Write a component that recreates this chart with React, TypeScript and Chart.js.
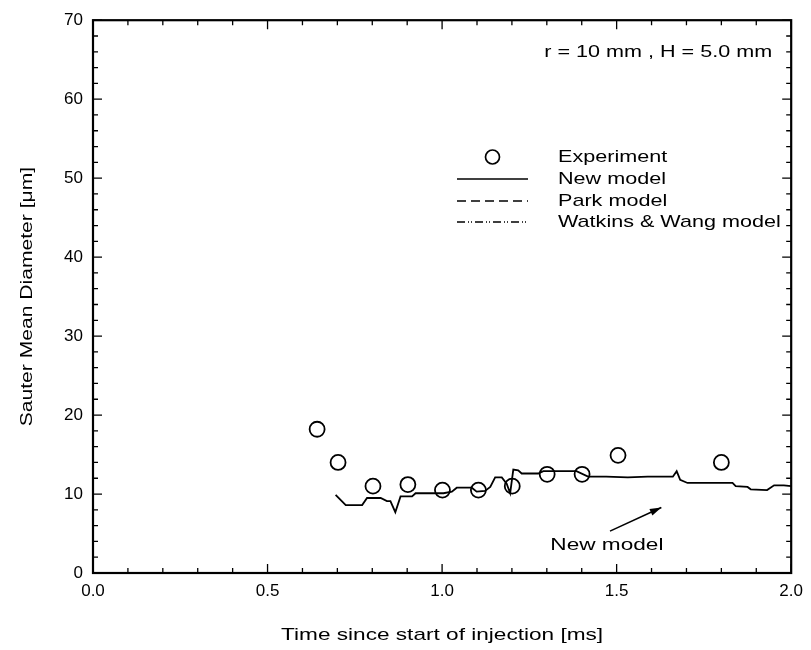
import React, { useEffect, useRef } from "react";
import { Chart, registerables } from "chart.js";

Chart.register(...registerables);

const FONT = "'Liberation Sans', Arial, Helvetica, sans-serif";

// Experiment (circles)
const expTime = [0.642, 0.702, 0.802, 0.902, 1.001, 1.104, 1.201, 1.301, 1.401, 1.504, 1.8];
const expSMD = [18.2, 14.0, 11.0, 11.2, 10.5, 10.5, 11.0, 12.5, 12.5, 14.9, 14.0];

// New model (solid line)
const newTime = [
  0.695, 0.724, 0.771, 0.785, 0.824, 0.842, 0.852, 0.866, 0.881, 0.914, 0.924, 1.004, 1.028, 1.042,
  1.085, 1.099, 1.123, 1.138, 1.152, 1.171, 1.185, 1.195, 1.204, 1.218, 1.228, 1.275, 1.29, 1.385,
  1.418, 1.47, 1.532, 1.589, 1.661, 1.672, 1.682, 1.703, 1.832, 1.841, 1.875, 1.884, 1.931, 1.951,
  1.979, 2.0,
];
const newSMD = [
  9.9, 8.6, 8.6, 9.5, 9.5, 9.1, 9.1, 7.7, 9.7, 9.7, 10.1, 10.1, 10.3, 10.8,
  10.8, 10.3, 10.4, 10.9, 12.1, 12.1, 11.3, 10.1, 13.1, 13.0, 12.6, 12.6, 12.9, 12.9,
  12.2, 12.2, 12.1, 12.2, 12.2, 12.9, 11.8, 11.4, 11.4, 11.0, 10.9, 10.6, 10.5, 11.1,
  11.1, 11.0,
];

// Park model / Watkins & Wang model: no visible data in this range
const parkTime: number[] = [];
const parkSMD: number[] = [];
const wwTime: number[] = [];
const wwSMD: number[] = [];

const xTickLabels = ["0.0", "0.5", "1.0", "1.5", "2.0"];
const yTickLabels = ["0", "10", "20", "30", "40", "50", "60", "70"];

const xTitle = "Time since start of injection [ms]";
const yTitle = "Sauter Mean Diameter [\u03bcm]";
const caseLabel = "r = 10 mm , H = 5.0 mm";
const arrowLabel = "New model";

const toPts = (xs: number[], ys: number[]) => xs.map((x, i) => ({ x, y: ys[i] }));

// draw horizontally widened text (the original figure uses a wide sans face)
function wideText(ctx: any, text: string, x: number, y: number, align: string, sx: number) {
  ctx.save();
  ctx.translate(x, y);
  ctx.scale(sx, 1);
  ctx.textAlign = align;
  ctx.textBaseline = "middle";
  ctx.fillText(text, 0, 0);
  ctx.restore();
}

const framePlugin = {
  id: "frameTicks",
  afterDatasetsDraw(chart: any) {
    const { ctx, chartArea, scales } = chart;
    const { left, right, top, bottom } = chartArea;
    const xs = scales.x;
    const ys = scales.y;
    ctx.save();
    ctx.strokeStyle = "#000";
    ctx.lineWidth = 1.3;
    ctx.beginPath();
    for (let i = 0; i <= 20; i++) {
      const px = xs.getPixelForValue(i * 0.1);
      const len = i % 5 === 0 ? 9 : 5;
      ctx.moveTo(px, bottom);
      ctx.lineTo(px, bottom - len);
      ctx.moveTo(px, top);
      ctx.lineTo(px, top + len);
    }
    for (let i = 0; i <= 35; i++) {
      const py = ys.getPixelForValue(i * 2);
      const len = i % 5 === 0 ? 9 : 5;
      ctx.moveTo(left, py);
      ctx.lineTo(left + len, py);
      ctx.moveTo(right, py);
      ctx.lineTo(right - len, py);
    }
    ctx.stroke();
    ctx.lineWidth = 2.2;
    ctx.strokeRect(left, top, right - left, bottom - top);

    ctx.font = `17px ${FONT}`;
    ctx.fillStyle = "#000";

    // axis titles
    wideText(ctx, xTitle, (left + right) / 2, 635, "center", 1.33);
    ctx.save();
    ctx.translate(27, (top + bottom) / 2);
    ctx.rotate(-Math.PI / 2);
    wideText(ctx, yTitle, 0, 0, "center", 1.24);
    ctx.restore();

    // legend
    const lx0 = left + 364;
    const lx1 = left + 435;
    const tx = left + 465;
    const ly = [157, 179, 201, 222];
    chart.data.datasets.forEach((ds: any, i: number) => {
      const yy = ly[i];
      ctx.save();
      ctx.strokeStyle = "#000";
      if (ds.showLine === false) {
        ctx.lineWidth = 1.7;
        ctx.beginPath();
        ctx.arc((lx0 + lx1) / 2, yy, 7, 0, Math.PI * 2);
        ctx.stroke();
      } else {
        ctx.lineWidth = 1.3;
        ctx.setLineDash(ds.borderDash || []);
        ctx.beginPath();
        ctx.moveTo(lx0, yy);
        ctx.lineTo(lx1, yy);
        ctx.stroke();
      }
      ctx.restore();
      wideText(ctx, ds.label, tx, yy, "left", 1.27);
    });

    // case label
    wideText(ctx, caseLabel, right - 19, 52, "right", 1.27);

    // arrow annotation
    wideText(ctx, arrowLabel, xs.getPixelForValue(1.31), ys.getPixelForValue(3.5), "left", 1.33);
    const ax0 = xs.getPixelForValue(1.481);
    const ay0 = ys.getPixelForValue(5.3);
    const ax1 = xs.getPixelForValue(1.628);
    const ay1 = ys.getPixelForValue(8.3);
    ctx.lineWidth = 1.6;
    ctx.beginPath();
    ctx.moveTo(ax0, ay0);
    ctx.lineTo(ax1, ay1);
    ctx.stroke();
    const ang = Math.atan2(ay1 - ay0, ax1 - ax0);
    const hl = 12;
    const hw = 0.3;
    ctx.beginPath();
    ctx.moveTo(ax1, ay1);
    ctx.lineTo(ax1 - hl * Math.cos(ang - hw), ay1 - hl * Math.sin(ang - hw));
    ctx.lineTo(ax1 - hl * Math.cos(ang + hw), ay1 - hl * Math.sin(ang + hw));
    ctx.closePath();
    ctx.fill();
    ctx.restore();
  },
};

export default function App() {
  const ref = useRef<HTMLCanvasElement | null>(null);
  useEffect(() => {
    if (!ref.current) return;
    const chart = new Chart(ref.current, {
      type: "scatter",
      data: {
        datasets: [
          {
            label: "Experiment",
            data: toPts(expTime, expSMD),
            showLine: false,
            pointStyle: "circle",
            pointRadius: 7.5,
            pointBorderWidth: 1.8,
            pointBorderColor: "#000",
            pointBackgroundColor: "rgba(0,0,0,0)",
            borderColor: "#000",
          },
          {
            label: "New model",
            data: toPts(newTime, newSMD),
            showLine: true,
            pointRadius: 0,
            borderColor: "#000",
            borderWidth: 1.8,
            tension: 0,
          },
          {
            label: "Park model",
            data: toPts(parkTime, parkSMD),
            showLine: true,
            pointRadius: 0,
            borderColor: "#000",
            borderWidth: 1.3,
            borderDash: [9, 5],
          },
          {
            label: "Watkins & Wang model",
            data: toPts(wwTime, wwSMD),
            showLine: true,
            pointRadius: 0,
            borderColor: "#000",
            borderWidth: 1.3,
            borderDash: [8, 3, 1, 2, 1, 3],
          },
        ],
      },
      options: {
        animation: false,
        responsive: true,
        maintainAspectRatio: false,
        layout: { padding: { left: 0, right: 17, top: 18, bottom: 0 } },
        plugins: { legend: { display: false }, tooltip: { enabled: false } },
        scales: {
          x: {
            type: "linear",
            min: 0,
            max: 2,
            grid: { display: false, drawTicks: false },
            border: { display: false },
            ticks: {
              stepSize: 0.5,
              padding: 8,
              color: "#000",
              font: { family: FONT, size: 17 },
              callback: (v: any) => xTickLabels[Math.round(Number(v) / 0.5)] ?? "",
            },
            title: { display: false },
            afterFit: (s: any) => {
              s.height = 77;
            },
          },
          y: {
            type: "linear",
            min: 0,
            max: 70,
            grid: { display: false, drawTicks: false },
            border: { display: false },
            ticks: {
              stepSize: 10,
              padding: 10,
              color: "#000",
              font: { family: FONT, size: 17 },
              callback: (v: any) => yTickLabels[Math.round(Number(v) / 10)] ?? "",
            },
            title: { display: false },
            afterFit: (s: any) => {
              s.width = 93;
            },
          },
        },
      },
      plugins: [framePlugin],
    } as any);
    return () => chart.destroy();
  }, []);
  return (
    <div style={{ position: "fixed", left: 0, top: 0, width: 811, height: 650, background: "#fff" }}>
      <canvas ref={ref} />
    </div>
  );
}
